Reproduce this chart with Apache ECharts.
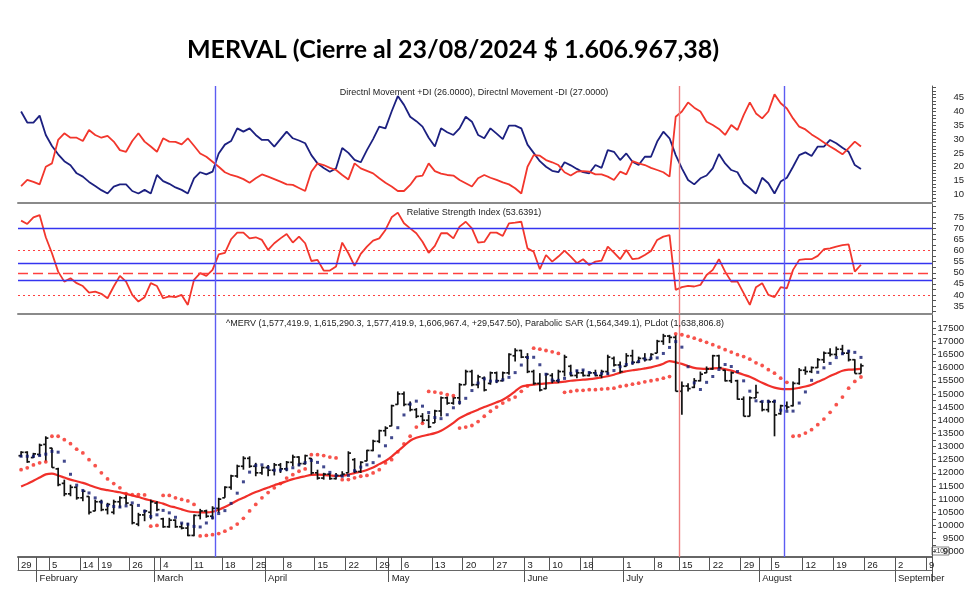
<!DOCTYPE html>
<html>
<head>
<meta charset="utf-8">
<title>MERVAL</title>
<script src="https://cdn.jsdelivr.net/npm/echarts@6/dist/echarts.min.js"></script>
<style>
html, body { margin: 0; padding: 0; background: #fff; }
#chart { width: 980px; height: 602px; }
</style>
</head>
<body>
<div id="chart"></div>
<script>
// trading days (Jan 29 -> Sep 9, 2024), data runs to Aug 23
const monthKeys = ['2024-01', '2024-02', '2024-03', '2024-04', '2024-05', '2024-06', '2024-07', '2024-08', '2024-09'];
const monthDays = [
  [29, 30, 31],
  [1, 2, 5, 6, 7, 8, 9, 14, 15, 16, 19, 20, 21, 22, 23, 26, 27, 28, 29],
  [1, 4, 5, 6, 7, 8, 11, 12, 13, 14, 15, 18, 19, 20, 21, 22, 25, 26],
  [3, 4, 5, 8, 9, 10, 11, 12, 15, 16, 17, 18, 19, 22, 23, 24, 25, 26, 29, 30],
  [2, 3, 6, 7, 8, 9, 10, 13, 14, 15, 16, 17, 20, 21, 22, 23, 24, 27, 28, 29, 30, 31],
  [3, 4, 5, 6, 10, 11, 12, 13, 14, 18, 19, 24, 25, 26, 27, 28],
  [1, 2, 3, 4, 5, 8, 10, 11, 12, 15, 16, 17, 18, 19, 22, 23, 24, 25, 26, 29, 30, 31],
  [1, 2, 5, 6, 7, 8, 9, 12, 13, 14, 15, 16, 19, 20, 21, 22, 23, 26, 27, 28, 29, 30],
  [2, 3, 4, 5, 6, 9]
];
const dates = [];
monthKeys.forEach((m, k) => monthDays[k].forEach(d => dates.push(m + '-' + String(d).padStart(2, '0'))));

const weekLabelDates = ['2024-01-29', '2024-02-05', '2024-02-14', '2024-02-19', '2024-02-26', '2024-03-04', '2024-03-11',
  '2024-03-18', '2024-03-25', '2024-04-08', '2024-04-15', '2024-04-22', '2024-04-29', '2024-05-06', '2024-05-13',
  '2024-05-20', '2024-05-27', '2024-06-03', '2024-06-10', '2024-06-18', '2024-07-01', '2024-07-08', '2024-07-15',
  '2024-07-22', '2024-07-29', '2024-08-05', '2024-08-12', '2024-08-19', '2024-08-26', '2024-09-02', '2024-09-09'];
const plainTickDates = ['2024-02-01', '2024-03-01', '2024-04-03', '2024-05-02', '2024-06-24', '2024-08-01'];
const monthStartDates = ['2024-02-01', '2024-03-01', '2024-04-03', '2024-05-02', '2024-06-03', '2024-07-01', '2024-08-01', '2024-09-02'];
const monthNames = ['February', 'March', 'April', 'May', 'June', 'July', 'August', 'September'];
const vlineDates = ['2024-03-15', '2024-07-15', '2024-08-07'];
const vlineColors = ['#5c5cf2', '#ee8080', '#5c5cf2'];

// ^MERV (x100)
const open = [12650, 12780, 12580, 12700, 13080, 12940, 12150, 11600, 11200, 11450, 11050, 11100, 10550, 10900, 10600, 10500,
  10900, 11050, 10780, 10050, 10400, 10500, 10850, 10250, 9950, 10200, 9950, 9900, 9620, 10380, 10550, 10350, 10650, 11050,
  11450, 11880, 12250, 12550, 12250, 12000, 12200, 12100, 12300, 12150, 12400, 12600, 12350, 12550, 12000, 11800, 11950,
  11780, 11900, 12000, 12500, 12050, 12450, 12850, 13200, 13600, 13780, 14600, 15000, 14600, 14400, 14150, 14000, 13900,
  14350, 14850, 14650, 14850, 15350, 15850, 15350, 15600, 15400, 15800, 15500, 15800, 16450, 16650, 16400, 15850, 15400,
  15200, 15700, 15500, 15850, 16050, 15700, 15800, 15700, 15800, 15700, 15850, 16350, 16100, 16050, 16450, 16200, 16350,
  16300, 16550, 17000, 17200, 17150, 15100, 15300, 15250, 15500, 15800, 15950, 16450, 15900, 15500, 15500, 14800, 14150,
  14850, 14700, 14400, 14700, 14250, 14550, 14550, 15400, 15900, 15850, 16000, 16300, 16550, 16500, 16700, 16550, 16300, 15774.2];
const high = [12820, 12820, 12760, 13110, 13390, 12950, 12190, 11740, 11550, 11490, 11360, 11110, 10980, 10980, 10860, 10980,
  11110, 11170, 10790, 10480, 10600, 10980, 10920, 10290, 10290, 10230, 10100, 10100, 10420, 10630, 10600, 10730, 11050, 11490,
  11930, 12310, 12630, 12630, 12380, 12250, 12300, 12375, 12375, 12450, 12690, 12630, 12690, 12565, 12120, 12000, 11995,
  11995, 12060, 12820, 12560, 12440, 12880, 13260, 13640, 13770, 14590, 15095, 15095, 14715, 14460, 14270, 14210, 14400,
  14905, 14905, 14905, 15410, 15920, 15920, 15730, 15665, 15850, 15850, 15850, 16550, 16740, 16680, 16550, 15920, 15790,
  15790, 15790, 15920, 16490, 16110, 15920, 15920, 15850, 15920, 15920, 16490, 16420, 16230, 16550, 16680, 16420, 16550,
  16550, 17056, 17284, 17246, 17246, 15475, 15410, 15600, 15850, 16044, 16487, 16487, 15918, 15854, 15538, 14905, 14905,
  15348, 14715, 14780, 14779, 14589, 14715, 15475, 15981, 16044, 16044, 16360, 16613, 16740, 16800, 16866, 16677, 16320, 16152.9];
const low = [12600, 12380, 12560, 12630, 12440, 12190, 11490, 11110, 11110, 10980, 10920, 10420, 10540, 10540, 10420, 10420,
  10670, 10790, 10040, 9970, 10160, 10230, 10540, 9910, 9910, 9910, 9850, 9590, 9590, 10230, 10290, 10230, 10480, 11050,
  11360, 11810, 12120, 12190, 11870, 11930, 11870, 11900, 11995, 12060, 12250, 12250, 12310, 11930, 11740, 11740, 11740,
  11750, 11870, 12000, 11995, 11995, 12440, 12820, 13130, 13390, 13770, 14590, 14530, 14336, 14080, 13890, 13700, 13890,
  14146, 14590, 14590, 14590, 15350, 15290, 15220, 15095, 15350, 15410, 15475, 15730, 16234, 16360, 15790, 15350, 15095,
  15180, 15410, 15410, 15665, 15665, 15600, 15665, 15665, 15665, 15600, 15730, 16040, 15790, 16040, 16110, 16170, 16230,
  16300, 16550, 16866, 16930, 15095, 14210, 15095, 15220, 15475, 15791, 15918, 15980, 15475, 15412, 14779, 14146, 14146,
  14842, 14336, 14300, 13388, 14210, 14399, 14525, 15348, 15728, 15791, 15981, 16171, 16424, 16424, 16487, 16234, 15774.2, 15774.2];
const close = [12780, 12420, 12720, 13050, 13320, 12200, 11550, 11200, 11450, 11050, 11300, 10500, 10900, 10600, 10800, 10900,
  11050, 10850, 10100, 10400, 10550, 10900, 10600, 9950, 10200, 9950, 9900, 9620, 10380, 10550, 10350, 10650, 11000, 11450,
  11880, 12250, 12550, 12250, 12000, 12200, 12100, 12300, 12150, 12400, 12600, 12350, 12650, 12000, 11800, 11950, 11780,
  11900, 11950, 12750, 12050, 12400, 12850, 13200, 13600, 13700, 14550, 15000, 14600, 14400, 14150, 14000, 13750, 14350,
  14850, 14650, 14850, 15350, 15850, 15350, 15650, 15150, 15800, 15500, 15800, 16500, 16650, 16400, 15850, 15400, 15150,
  15750, 15500, 15850, 16400, 15700, 15800, 15700, 15800, 15700, 15850, 16400, 16100, 15850, 16450, 16200, 16350, 16300,
  16500, 17000, 17200, 17150, 15100, 15300, 15200, 15500, 15750, 15950, 16450, 16000, 15500, 15800, 14800, 14150, 14850,
  15050, 14400, 14700, 14200, 14550, 14500, 15400, 15900, 15850, 16000, 16300, 16550, 16500, 16700, 16550, 16300, 15774.2, 16069.7];
const sar = [12120, 12190, 12300, 12380, 12420, 13390, 13390, 13260, 13110, 12900, 12755, 12500, 12270, 12000, 11770, 11590,
  11430, 11210, 11175, 11175, 11160, 9970, 10000, 11140, 11140, 11050, 10990, 10930, 10800, 9600, 9620, 9650, 9690, 9780,
  9900, 10050, 10270, 10550, 10800, 11050, 11250, 11430, 11590, 11800, 11930, 12060, 12150, 12690, 12690, 12655, 12600,
  12565, 11740, 11745, 11810, 11870, 11900, 11995, 12120, 12375, 12500, 12800, 13100, 13390, 13740, 13880, 15095, 15070,
  15030, 14970, 14930, 13700, 13740, 13800, 13950, 14150, 14340, 14500, 14650, 14780, 14880, 15100, 15300, 16740, 16700,
  16650, 16600, 16540, 15060, 15095, 15130, 15135, 15160, 15160, 15185, 15200, 15220, 15285, 15320, 15370, 15410, 15460,
  15500, 15540, 15600, 15660, 17284, 17250, 17190, 17120, 17040, 16960, 16870, 16780, 16680, 16590, 16490, 16420, 16320,
  16180, 16080, 15920, 15790, 15600, 15440, 13390, 13410, 13510, 13640, 13830, 14045, 14300, 14590, 14880, 15220, 15475, 15643];
const plDot = [12630, 12630, 12630, 12657, 12710, 12815, 12785, 12442, 11945, 11532, 11330, 11235, 11047, 10888, 10762, 10720,
  10700, 10743, 10857, 10762, 10540, 10340, 10403, 10572, 10478, 10310, 10090, 10048, 9963, 9942, 10093, 10293, 10452, 10563,
  10838, 11227, 11658, 12027, 12282, 12303, 12208, 12100, 12105, 12137, 12193, 12303, 12388, 12470, 12397, 12227, 12017,
  11890, 11870, 11902, 12082, 12218, 12303, 12387, 12640, 13028, 13335, 13715, 14200, 14610, 14725, 14535, 14292, 14102,
  14060, 14208, 14473, 14675, 14833, 15128, 15413, 15572, 15487, 15485, 15537, 15630, 15810, 16097, 16383, 16393, 16108,
  15748, 15527, 15515, 15590, 15782, 15878, 15910, 15813, 15770, 15780, 15770, 15887, 16033, 16117, 16178, 16233, 16328,
  16360, 16370, 16538, 16767, 16988, 16778, 16033, 15420, 15167, 15440, 15663, 15927, 16117, 16043, 15853, 15497, 15105,
  14737, 14715, 14715, 14720, 14382, 14340, 14347, 14653, 15075, 15517, 15823, 15992, 16160, 16380, 16527, 16622, 16580, 16388];
const avgLine = [11480, 11580, 11700, 11820, 11940, 11970, 11900, 11820, 11740, 11680, 11620, 11540, 11450, 11380, 11340, 11300,
  11260, 11200, 11140, 11080, 11010, 10950, 10890, 10830, 10740, 10680, 10610, 10540, 10510, 10500, 10500, 10520, 10600, 10700,
  10820, 10950, 11050, 11170, 11270, 11360, 11440, 11530, 11600, 11680, 11760, 11820, 11870, 11920, 11930, 11920, 11900,
  11880, 11890, 11930, 11990, 12040, 12110, 12200, 12330, 12450, 12620, 12820, 13020, 13220, 13330, 13400, 13450, 13510,
  13600, 13740, 13900, 14080, 14200, 14300, 14400, 14500, 14590, 14680, 14780, 14920, 15100, 15270, 15320, 15350, 15380,
  15400, 15420, 15440, 15470, 15500, 15520, 15540, 15560, 15590, 15630, 15670, 15730, 15810, 15860, 15900, 15930, 15970,
  16010, 16070, 16150, 16250, 16200, 16140, 16060, 15990, 15960, 15950, 15970, 15980, 15940, 15890, 15810, 15730, 15650,
  15540, 15420, 15320, 15240, 15190, 15180, 15190, 15230, 15280, 15350, 15460, 15560, 15680, 15780, 15880, 15920, 15930, 15950];

// Directional movement
const diPlus = [40, 36, 36, 38.5, 31.5, 27.5, 24.5, 22, 20.5, 17.6, 16.4, 14.5, 13, 11.5, 10.3, 12.8, 13.6, 13.6, 11.2, 10.3,
  11.6, 10.3, 17, 14.8, 13.8, 12.5, 11.6, 10.3, 15.8, 18, 17.2, 18.2, 24.8, 28, 29.3, 33.9, 32.7, 33.9, 31.5, 29.7, 29.7,
  27.3, 30, 32.7, 30.3, 29.5, 28.5, 24.2, 21.2, 19.5, 18.2, 19.4, 26.8, 25, 22.5, 21.6, 26, 30, 34.5, 33.9, 40, 45.6, 42.4,
  38.1, 36.5, 34.5, 30.5, 27.3, 33.9, 32.5, 31.5, 33.9, 38.1, 36.3, 31.5, 30.3, 33.9, 32, 30, 34.9, 34.9, 33.9, 28, 25, 22,
  20, 18.5, 18, 21.6, 20.5, 19.2, 18, 17.6, 20.6, 19.6, 26, 25.4, 22.4, 24.8, 21.8, 20.6, 23.6, 23.6, 29.1, 32.7, 30.3,
  24.2, 19.4, 15.2, 13.6, 15.8, 16.8, 19.4, 24.6, 21.2, 18.8, 18, 14, 12.2, 10.3, 16, 14, 10.3, 14.6, 16, 20, 24.2, 25.2,
  23.9, 27.3, 27.3, 29.7, 28.5, 26.9, 25.4, 20.6, 19.2];
const diMinus = [13, 15.2, 14.5, 13.6, 20, 21.2, 29.7, 32.1, 30.5, 30.5, 29.3, 33.3, 31.5, 30.5, 31.2, 29.1, 26, 25.4, 29.3,
  32.1, 29.1, 27.3, 25.4, 30.3, 29.1, 29, 28.1, 30.3, 27.6, 24.8, 23.6, 21.8, 20, 18, 17, 16.4, 15.5, 14.2, 15.8, 17.2, 16.4,
  15.5, 14.6, 13.6, 13.4, 12.3, 11.2, 18.2, 21.2, 20.6, 19.6, 18.8, 17, 15.4, 21.2, 19.4, 18.5, 17.6, 15.8, 14.2, 12.8, 11.2,
  11.2, 13.4, 16.4, 16.8, 21.2, 18.4, 17.5, 17, 16.8, 15.2, 14, 12.8, 15.8, 17, 16, 15.2, 14.3, 13.6, 12.2, 10.3, 20, 24.2,
  24, 22.4, 21.6, 20.6, 18, 16.8, 18.2, 18.4, 18.2, 17.2, 17.2, 16.4, 15.2, 18.2, 17.2, 22, 21.2, 20.6, 19.6, 18.8, 18, 16.4,
  38.1, 40, 43.3, 41.4, 40, 36.3, 35.1, 33.7, 31.5, 35.1, 33.3, 38.7, 43.3, 39.3, 37.5, 40, 46.2, 43, 41.1, 37.5, 34.5, 33.5,
  31.7, 30.3, 28.8, 27.3, 26, 24.5, 26.7, 29.1, 27.3];

// RSI
const rsi = [73.5, 72, 75, 76, 66, 58.8, 50.5, 46, 47.5, 45.3, 44, 41, 41.5, 40.5, 38.5, 43.8, 48.6, 46, 40, 37, 39, 45.3,
  44, 38.5, 39.3, 39, 40, 35.5, 46.8, 49.8, 48.6, 51.3, 58.3, 59, 65.1, 68.1, 68.1, 65.5, 66, 64.8, 60.3, 63.3, 65.5, 67.5,
  63.6, 66.3, 63.3, 55.3, 55.8, 51, 51, 52.8, 63.6, 58.8, 53.1, 58.5, 61.8, 64.5, 65.5, 69.3, 75, 77.1, 72.3, 70, 67.8, 64,
  59, 62.1, 67.8, 67.8, 65.5, 70.8, 73, 70, 63.6, 63.9, 68.1, 68.1, 66.6, 72.3, 72.6, 73, 61, 59.5, 51.6, 58, 55, 57.3, 60,
  57.3, 54.3, 56.1, 53.5, 55, 55.5, 61.8, 59.1, 56.1, 60.3, 56.1, 56.5, 58, 59.8, 64.8, 66.3, 67, 42.3, 43.5, 44.1, 43.8,
  44.5, 49, 51.3, 56.1, 50.5, 46, 46, 40.8, 35.5, 43.5, 45.3, 40, 39, 43.5, 43, 51.3, 55.8, 56.1, 56.1, 57.6, 60.6, 61, 61.8,
  62.5, 62.8, 50.5, 53.6];
const rsiBlueLevels = [70, 54.4, 46.6];
const rsiDottedLevels = [60, 40];
const rsiDashedLevel = 50;

// right axis labels
const diTicks = [10, 15, 20, 25, 30, 35, 40, 45];
const rsiTicks = [35, 40, 45, 50, 55, 60, 65, 70, 75];
const priceTicks = [9000, 9500, 10000, 10500, 11000, 11500, 12000, 12500, 13000, 13500, 14000, 14500, 15000, 15500,
  16000, 16500, 17000, 17500];

const FONT = "'Liberation Sans Narrow', 'Liberation Sans', Arial, sans-serif";
const AX = '#555';

function tickList(from, to, step) {
  const out = [];
  for (let v = from; v <= to + 1e-9; v += step) out.push(+v.toFixed(3));
  return out;
}

function yAxis(grid, min, max, labels, ticks) {
  return {
    type: 'value', gridIndex: grid, position: 'right', min: min, max: max,
    splitLine: { show: false },
    axisLine: { show: true, onZero: false, lineStyle: { color: AX, width: 1 } },
    axisTick: { show: true, customValues: ticks, length: 4, lineStyle: { color: AX } },
    axisLabel: { customValues: labels, align: 'right', margin: 32, fontSize: 9.5, color: '#222', fontFamily: FONT,
      formatter: v => String(v) }
  };
}

function catAxis(grid) {
  return {
    type: 'category', gridIndex: grid, data: dates, boundaryGap: true,
    axisLine: { show: true, onZero: false, lineStyle: { color: '#8a8a8a', width: 2 } },
    axisTick: { show: false }, axisLabel: { show: false }, splitLine: { show: false }
  };
}

function hiddenValueAxis(grid) {
  return { type: 'value', gridIndex: grid, min: -0.5, max: dates.length - 0.5, show: false,
    axisLine: { show: false, onZero: false } };
}

function vlineSeries(xIdx, yIdx) {
  return {
    type: 'line', xAxisIndex: xIdx, yAxisIndex: yIdx, data: [], silent: true,
    markLine: {
      silent: true, symbol: 'none', label: { show: false }, animation: false,
      data: vlineDates.map((d, k) => ({ xAxis: dates.indexOf(d) - 0.5, lineStyle: { color: vlineColors[k], width: 1.4, type: 'solid' } }))
    }
  };
}

function renderBar(params, api) {
  const i = api.value(0);
  const o = api.coord([i, api.value(1)]);
  const c = api.coord([i, api.value(2)]);
  const lo = api.coord([i, api.value(3)]);
  const hi = api.coord([i, api.value(4)]);
  const t = 2.6;
  const st = { stroke: '#111', lineWidth: 1.7 };
  return {
    type: 'group', children: [
      { type: 'line', shape: { x1: hi[0], y1: hi[1], x2: lo[0], y2: lo[1] }, style: st },
      { type: 'line', shape: { x1: o[0] - t, y1: o[1], x2: o[0], y2: o[1] }, style: st },
      { type: 'line', shape: { x1: c[0], y1: c[1], x2: c[0] + t, y2: c[1] }, style: st }
    ]
  };
}

const ohlc = close.map((v, i) => [i, open[i], close[i], low[i], high[i]]);

const rsiMarks = []
  .concat(rsiBlueLevels.map(v => ({ yAxis: v, lineStyle: { color: '#3434f0', width: 1.3, type: 'solid' } })))
  .concat(rsiDottedLevels.map(v => ({ yAxis: v, lineStyle: { color: '#ff4040', width: 1, type: [2, 3] } })))
  .concat([{ yAxis: rsiDashedLevel, lineStyle: { color: '#ff4040', width: 1.3, type: [10, 5] } }]);

const myChart = echarts.init(document.getElementById('chart'), null, { renderer: 'canvas' });

const weekAxis = {
  type: 'category', gridIndex: 2, data: dates, boundaryGap: true, position: 'bottom',
  axisLine: { show: true, onZero: false, lineStyle: { color: '#666', width: 2 } },
  axisTick: {
    show: true, length: 13, lineStyle: { color: '#555', width: 1 },
    interval: (idx, val) => weekLabelDates.includes(val) || plainTickDates.includes(val)
  },
  axisLabel: {
    show: true, interval: (idx, val) => weekLabelDates.includes(val), align: 'left', margin: 3,
    fontSize: 9.5, color: '#222', fontFamily: FONT,
    formatter: v => String(+v.slice(8))
  },
  splitLine: { show: false }
};

const monthAxis = {
  type: 'category', gridIndex: 2, data: dates, boundaryGap: true, position: 'bottom', offset: 13,
  axisLine: { show: true, onZero: false, lineStyle: { color: '#666', width: 1.2 } },
  axisTick: { show: true, length: 12, lineStyle: { color: '#555', width: 1 }, interval: (idx, val) => monthStartDates.includes(val) },
  axisLabel: {
    show: true, interval: (idx, val) => monthStartDates.includes(val), align: 'left', margin: 3,
    fontSize: 9.5, color: '#222', fontFamily: FONT,
    formatter: v => monthNames[monthStartDates.indexOf(v)]
  },
  splitLine: { show: false }
};

const option = {
  backgroundColor: '#fff',
  animation: false,
  grid: [
    { left: 18, right: 48, top: 86, height: 117 },
    { left: 18, right: 48, top: 204, height: 110 },
    { left: 18, right: 48, top: 315, height: 242 }
  ],
  xAxis: [catAxis(0), catAxis(1), weekAxis, monthAxis, hiddenValueAxis(0), hiddenValueAxis(1), hiddenValueAxis(2)],
  yAxis: [
    yAxis(0, 6.85, 49.24, diTicks, tickList(7.5, 48.75, 1.25)),
    yAxis(1, 31.4, 81, rsiTicks, tickList(32.5, 80, 2.5)),
    yAxis(2, 8800, 18000, priceTicks, tickList(9000, 17750, 250))
  ],
  series: [
    { name: '+DI', type: 'line', xAxisIndex: 0, yAxisIndex: 0, data: diPlus, showSymbol: false,
      lineStyle: { color: '#1c2080', width: 1.8 }, z: 3 },
    { name: '-DI', type: 'line', xAxisIndex: 0, yAxisIndex: 0, data: diMinus, showSymbol: false,
      lineStyle: { color: '#f2362c', width: 1.8 }, z: 3 },
    { name: 'RSI', type: 'line', xAxisIndex: 1, yAxisIndex: 1, data: rsi, showSymbol: false,
      lineStyle: { color: '#f2362c', width: 1.8 }, z: 3,
      markLine: { silent: true, symbol: 'none', label: { show: false }, animation: false, data: rsiMarks } },
    { name: '^MERV', type: 'custom', xAxisIndex: 2, yAxisIndex: 2, data: ohlc, renderItem: renderBar,
      encode: { x: 0, y: [1, 2, 3, 4] }, z: 4 },
    { name: 'avg', type: 'line', xAxisIndex: 2, yAxisIndex: 2, data: avgLine, showSymbol: false, smooth: 0.3,
      lineStyle: { color: '#f0302a', width: 2.2 }, z: 3 },
    { name: 'Parabolic SAR', type: 'scatter', xAxisIndex: 2, yAxisIndex: 2, data: sar, symbol: 'circle', symbolSize: 3.8,
      itemStyle: { color: '#f5281f' }, z: 5 },
    { name: 'PLdot', type: 'scatter', xAxisIndex: 2, yAxisIndex: 2, data: plDot, symbol: 'rect', symbolSize: 3,
      itemStyle: { color: '#121a70' }, z: 5 },
    vlineSeries(4, 0),
    vlineSeries(5, 1),
    vlineSeries(6, 2)
  ],
  graphic: [
    { type: 'text', x: 453, y: 50, z: 10,
      style: { text: 'MERVAL (Cierre al 23/08/2024 $ 1.606.967,38)', font: 'bold 25px Lato, "Open Sans", sans-serif',
        fill: '#000', textAlign: 'center', textVerticalAlign: 'middle' } },
    { type: 'text', x: 474, y: 93, z: 10,
      style: { text: 'Directnl Movement +DI (26.0000), Directnl Movement -DI (27.0000)', font: '9px ' + FONT,
        fill: '#222', textAlign: 'center', textVerticalAlign: 'middle' } },
    { type: 'text', x: 474, y: 212.5, z: 10,
      style: { text: 'Relative Strength Index (53.6391)', font: '9px ' + FONT,
        fill: '#222', textAlign: 'center', textVerticalAlign: 'middle' } },
    { type: 'text', x: 475, y: 323.5, z: 10,
      style: { text: '^MERV (1,577,419.9, 1,615,290.3, 1,577,419.9, 1,606,967.4, +29,547.50), Parabolic SAR (1,564,349.1), PLdot (1,638,806.8)',
        font: '9px ' + FONT, fill: '#222', textAlign: 'center', textVerticalAlign: 'middle' } },
    { type: 'group', x: 932, y: 547, z: 20, children: [
      { type: 'rect', shape: { x: 0, y: 0, width: 17, height: 8 }, style: { fill: '#fff', stroke: '#666', lineWidth: 0.8 } },
      { type: 'text', x: 8.5, y: 4, style: { text: 'x100', font: '6.5px ' + FONT, fill: '#333', textAlign: 'center', textVerticalAlign: 'middle' } }
    ] }
  ]
};

myChart.setOption(option);
</script>
</body>
</html>
